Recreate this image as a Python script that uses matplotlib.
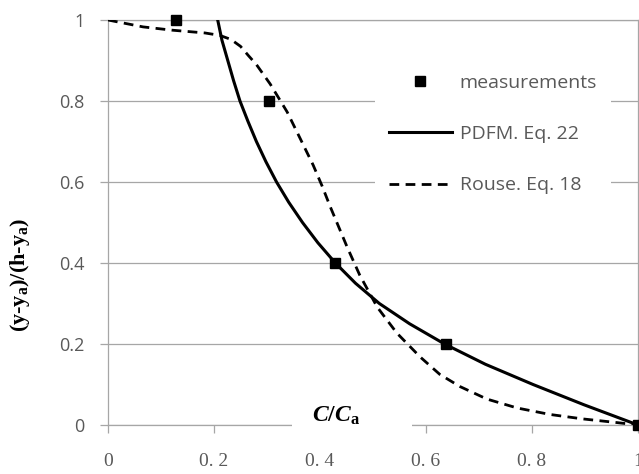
import matplotlib.pyplot as plt
from matplotlib.patches import Rectangle

plt.rcParams['mathtext.fontset'] = 'custom'
plt.rcParams['mathtext.rm'] = 'Liberation Serif:bold'
plt.rcParams['mathtext.it'] = 'Liberation Serif:italic:bold'
plt.rcParams['mathtext.bf'] = 'Liberation Serif:bold'

# measurements
meas_x = [0.128, 0.304, 0.428, 0.638, 1.0]
meas_y = [1.0, 0.80, 0.40, 0.20, 0.0]

# PDFM, Eq. 22 (solid)
pdfm_x = [0.207, 0.215, 0.226, 0.237, 0.249, 0.264, 0.280, 0.298, 0.318, 0.341, 0.367,
          0.396, 0.429, 0.467, 0.512, 0.569, 0.635, 0.712, 0.802, 0.898, 1.0]
pdfm_y = [1.0, 0.95, 0.90, 0.85, 0.80, 0.75, 0.70, 0.65, 0.60, 0.55, 0.50,
          0.45, 0.40, 0.35, 0.30, 0.25, 0.20, 0.15, 0.10, 0.05, 0.0]

# Rouse, Eq. 18 (dashed)
rouse_x = [0.0, 0.066, 0.12, 0.183, 0.211, 0.232, 0.25, 0.265, 0.28, 0.306, 0.338, 0.362,
           0.387, 0.404, 0.419, 0.435, 0.451, 0.475, 0.508, 0.545, 0.589, 0.626, 0.664,
           0.715, 0.772, 0.834, 0.896, 0.96, 1.0]
rouse_y = [1.0, 0.983, 0.975, 0.968, 0.962, 0.952, 0.935, 0.912, 0.89, 0.842, 0.773, 0.709,
           0.642, 0.59, 0.54, 0.49, 0.44, 0.37, 0.291, 0.227, 0.168, 0.125, 0.095,
           0.064, 0.042, 0.026, 0.015, 0.006, 0.0]

xticks = [0, 0.2, 0.4, 0.6, 0.8, 1.0]
xtick_labels = ['0', '0. 2', '0. 4', '0. 6', '0. 8', '1']
yticks = [0, 0.2, 0.4, 0.6, 0.8, 1.0]
ytick_labels = ['0', '0.2', '0.4', '0.6', '0.8', '1']

grey = '#a6a6a6'
txt = '#595959'

fig = plt.figure(figsize=(6.39, 4.74), dpi=100)
ax = fig.add_axes([108/639, 1-425/474, 530/639, 405/474])

ax.plot(pdfm_x, pdfm_y, color='black', lw=2.2, label='PDFM. Eq. 22', zorder=4,
        solid_joinstyle='round')
ax.plot(rouse_x, rouse_y, color='black', lw=2.0, ls=(0, (3.5, 2.3)), label='Rouse. Eq. 18', zorder=4)
ax.plot(meas_x, meas_y, 's', color='black', ms=7, label='measurements', zorder=5, clip_on=False)

ax.set_xlim(0, 1)
ax.set_ylim(0, 1)
ax.set_xticks(xticks)
ax.set_xticklabels(xtick_labels, family='Liberation Serif', fontsize=14, color=txt)
ax.set_yticks(yticks)
ax.set_yticklabels(ytick_labels, family='Open Sans', fontsize=13, color=txt)
ax.tick_params(axis='x', length=6, width=0.9, color=grey, direction='out', pad=14)
ax.tick_params(axis='y', length=6, width=0.9, color=grey, direction='out', pad=11)
ax.grid(axis='y', color=grey, lw=0.9)
ax.set_axisbelow(True)
for s in ax.spines.values():
    s.set_color(grey)
    s.set_linewidth(0.9)

# white patch behind the x label, breaking the axis line
ax.add_patch(Rectangle((0.347, -0.03), 0.226, 0.11, transform=ax.transAxes,
                       facecolor='white', edgecolor='none', zorder=3, clip_on=False))
ax.text(0.43, 0.025, r'$\mathit{C/C}_{\mathbf{a}}$', fontsize=17,
        ha='center', va='center', zorder=4)

fig.text(20/639, 1-275/474, r'(y-y$_\mathrm{a}$)/(h-y$_\mathrm{a}$)', rotation=90,
         family='Liberation Serif', fontweight='bold', fontsize=16, ha='center', va='center')

handles, labels = ax.get_legend_handles_labels()
order = [2, 0, 1]
leg = ax.legend([handles[i] for i in order], [labels[i] for i in order],
                loc='upper left', bbox_to_anchor=(375/639, 1-60/474), bbox_transform=fig.transFigure,
                borderaxespad=0, frameon=True, fancybox=False, framealpha=1,
                facecolor='white', edgecolor='none', numpoints=1,
                handlelength=3.25, handletextpad=0.4, labelspacing=1.72, borderpad=0.7,
                prop={'family': 'Open Sans', 'size': 14})
for t in leg.get_texts():
    t.set_color(txt)
leg.set_zorder(6)

fig.savefig('out.png', dpi=100)
